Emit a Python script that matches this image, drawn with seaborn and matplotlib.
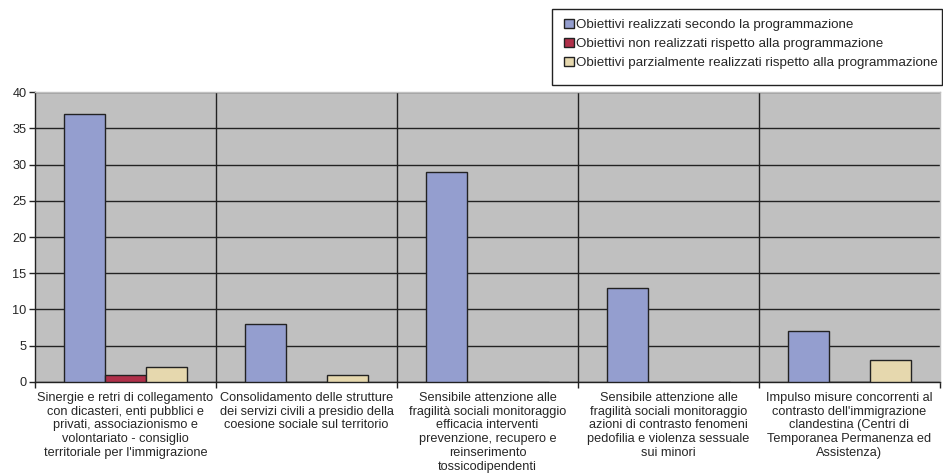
import matplotlib
matplotlib.use("Agg")
import matplotlib.pyplot as plt
from matplotlib.patches import Rectangle
import seaborn as sns
import pandas as pd

categorie = [
    "Sinergie e retri di collegamento\ncon dicasteri, enti pubblici e\nprivati, associazionismo e\nvolontariato - consiglio\nterritoriale per l'immigrazione",
    "Consolidamento delle strutture\ndei servizi civili a presidio della\ncoesione sociale sul territorio",
    "Sensibile attenzione alle\nfragilità sociali monitoraggio\nefficacia interventi\nprevenzione, recupero e\nreinserimento\ntossicodipendenti",
    "Sensibile attenzione alle\nfragilità sociali monitoraggio\nazioni di contrasto fenomeni\npedofilia e violenza sessuale\nsui minori",
    "Impulso misure concorrenti al\ncontrasto dell'immigrazione\nclandestina (Centri di\nTemporanea Permanenza ed\nAssistenza)",
]
serie = [
    "Obiettivi realizzati secondo la programmazione",
    "Obiettivi non realizzati rispetto alla programmazione",
    "Obiettivi parzialmente realizzati rispetto alla programmazione",
]
realizzati = [37, 8, 29, 13, 7]
non_realizzati = [1, 0, 0, 0, 0]
parziali = [2, 1, 0, 0, 3]
colori = ["#949ECF", "#B0304A", "#E6D8AE"]

rows = []
for nome, valori in zip(serie, [realizzati, non_realizzati, parziali]):
    for cat, v in zip(categorie, valori):
        rows.append({"categoria": cat, "serie": nome, "valore": v})
df = pd.DataFrame(rows)

sns.set_theme(style="white")
plt.rcParams["font.family"] = ["Liberation Sans", "DejaVu Sans"]

fig = plt.figure(figsize=(9.43, 4.76), dpi=100)
ax = fig.add_axes([0.0371, 0.1975, 0.9597, 0.6092])
ax.set_facecolor("#C0C0C0")

sns.barplot(data=df, x="categoria", y="valore", hue="serie", order=categorie,
            hue_order=serie, palette=colori, width=0.68, edgecolor="#222222",
            linewidth=1.0, saturation=1, ax=ax, legend=True, zorder=3)

ax.set_xlim(-0.5, len(categorie) - 0.5)
ax.set_ylim(0, 40)
ax.set_yticks(range(0, 41, 5))
ax.yaxis.grid(True, color="#222222", linewidth=1.0, zorder=1)
ax.set_axisbelow(True)
for i in range(len(categorie) - 1):
    ax.axvline(i + 0.5, color="#222222", linewidth=1.0, zorder=1)

ax.set_xlabel("")
ax.set_ylabel("")
ax.tick_params(axis="x", length=0, labelsize=9.2, pad=7)
ax.tick_params(axis="y", length=4, width=1, color="#222222", labelsize=9.2,
               left=True, pad=2)
ax.set_xticks([i - 0.5 for i in range(len(categorie) + 1)], minor=True)
ax.tick_params(axis="x", which="minor", bottom=True, length=4, width=1,
               color="#222222")
for lab in ax.get_xticklabels():
    lab.set_horizontalalignment("center")
    lab.set_multialignment("center")
    lab.set_verticalalignment("top")
    lab.set_linespacing(1.2)

for s in ax.spines.values():
    s.set_color("#222222")
    s.set_linewidth(1.0)
ax.spines["right"].set_color("#C0C0C0")
ax.spines["top"].set_color("#C0C0C0")

# legend box drawn as a separate frame, entries placed inside it
fig.patches.append(Rectangle((0.5854, 0.8214), 0.4136, 0.1597,
                             transform=fig.transFigure, facecolor="white",
                             edgecolor="#222222", linewidth=1.0, zorder=0))

handles, labels = ax.get_legend_handles_labels()
ax.get_legend().remove()
leg = fig.legend(handles, labels, loc="upper right", bbox_to_anchor=(0.9947, 0.961),
                 frameon=False, fontsize=9.65, handlelength=0.7, handleheight=0.7,
                 handletextpad=0.2, labelspacing=0.5, borderpad=0,
                 borderaxespad=0)

fig.savefig("out.png", dpi=100)
